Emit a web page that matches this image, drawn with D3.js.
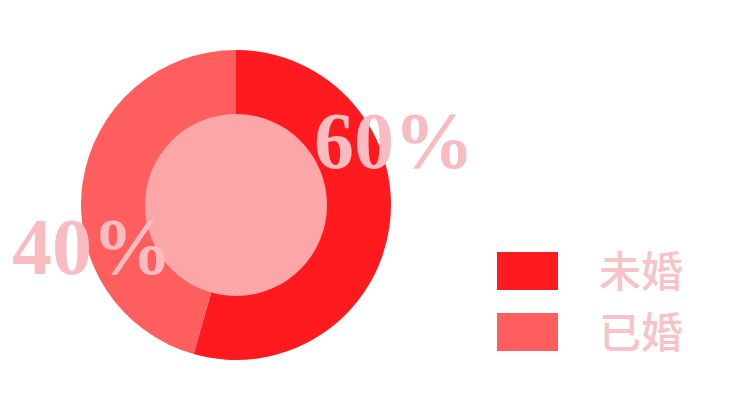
<!DOCTYPE html>
<html><head><meta charset="utf-8">
<script src="https://cdn.jsdelivr.net/npm/d3@7"></script>
<style>html,body{margin:0;padding:0;background:#fff;}</style>
</head><body>
<svg id="chart" width="750" height="420"></svg>
<script>
// categories and slice shares as drawn in the picture
const categories = ["未婚", "已婚"];
const sliceShares = [54.4, 45.6];
const labelTexts = ["60%", "40%"];
const colors = ["#ff1a1f", "#ff5e5e"];

const svg = d3.select("#chart");
const cx = 236, cy = 205, rOuter = 155, rInner = 91;

const pie = d3.pie().sort(null).value(d => d)(sliceShares);
const arc = d3.arc().innerRadius(0).outerRadius(rOuter);

const g = svg.append("g").attr("transform", `translate(${cx},${cy})`);
g.selectAll("path").data(pie).join("path")
  .attr("d", arc)
  .attr("fill", (d, i) => colors[i]);
g.append("circle").attr("r", rInner).attr("fill", "#fca7a7");

// percent labels
const labelPos = [[314, 168], [12, 274]];
svg.selectAll("text.pct").data(labelTexts).join("text")
  .attr("class", "pct")
  .attr("x", (d, i) => labelPos[i][0])
  .attr("y", (d, i) => labelPos[i][1])
  .attr("font-family", "'Liberation Serif', 'DejaVu Serif', serif")
  .attr("font-weight", "bold")
  .attr("font-size", 80)
  .attr("fill", "#f8bcc0")
  .text(d => d);

// legend
const legend = svg.append("g");
const ly = d3.scalePoint().domain(categories).range([252, 313]);
legend.selectAll("rect").data(categories).join("rect")
  .attr("x", 497).attr("y", d => ly(d))
  .attr("width", 61).attr("height", 38)
  .attr("fill", (d, i) => colors[i]);
legend.selectAll("text").data(categories).join("text")
  .attr("x", 599).attr("y", d => ly(d) + 35)
  .attr("font-family", "'Noto Sans CJK SC', sans-serif")
  .attr("font-weight", 500)
  .attr("font-size", 42)
  .attr("fill", "#f7c3c6")
  .text(d => d);
</script>
</body></html>
